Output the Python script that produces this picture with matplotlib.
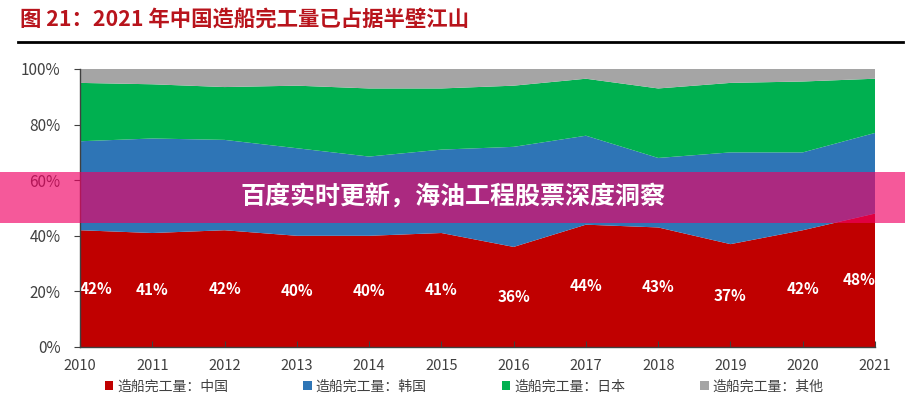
import numpy as np
import matplotlib
matplotlib.use("Agg")
import matplotlib.pyplot as plt
from matplotlib.patches import Rectangle

plt.rcParams['font.family'] = ['Noto Sans CJK SC', 'DejaVu Sans']

years = [2010, 2011, 2012, 2013, 2014, 2015, 2016, 2017, 2018, 2019, 2020, 2021]
china = [42, 41, 42, 40, 40, 41, 36, 44, 43, 37, 42, 48]
korea = [32, 34, 32.5, 31.5, 28.5, 30, 36, 32, 25, 33, 28, 29]
japan = [21, 19.5, 19, 22.5, 24.5, 22, 22, 20.5, 25, 25, 25.5, 19.5]
other = [100 - c - k - j for c, k, j in zip(china, korea, japan)]

series_names = ['造船完工量：中国', '造船完工量：韩国', '造船完工量：日本', '造船完工量：其他']
colors = ['#C00000', '#2E75B6', '#00B050', '#A5A5A5']

title = '图 21：2021 年中国造船完工量已占据半壁江山'
banner = '百度实时更新，海油工程股票深度洞察'

fig = plt.figure(figsize=(9.05, 3.94), dpi=100)
ax = fig.add_axes([0.0884, 0.1193, 0.8785, 0.7056])

polys = ax.stackplot(years, china, korea, japan, other, colors=colors, linewidth=0)

# data labels for China share
for i, (x, v) in enumerate(zip(years, china)):
    ha = 'center'
    if i == 0:
        ha = 'left'
    elif i == len(years) - 1:
        ha = 'right'
    ax.text(x, v / 2, f'{v}%', color='white', fontsize=11, fontweight='bold',
            ha=ha, va='center')

ax.set_xlim(years[0], years[-1])
ax.set_ylim(0, 100)
ax.set_xticks(years)
ax.set_yticks(range(0, 101, 20))
ax.set_yticklabels([f'{v}%' for v in range(0, 101, 20)])
ax.tick_params(axis='x', direction='in', length=4, pad=9, labelsize=10.5, labelcolor='#404040', color='#404040')
ax.tick_params(axis='y', direction='out', length=4, pad=10, labelsize=11, labelcolor='#404040', color='#404040')
for side in ['top', 'right']:
    ax.spines[side].set_visible(False)
for side in ['left', 'bottom']:
    ax.spines[side].set_color('#404040')
    ax.spines[side].set_linewidth(1)
    ax.spines[side].set_zorder(5)

fig.legend(polys, series_names, loc='center', bbox_to_anchor=(0.513, 0.019), ncol=4,
           frameon=False, fontsize=10, handlelength=0.6, handleheight=0.6,
           handletextpad=0.3, columnspacing=5.4, labelcolor='#404040',
           borderpad=0, borderaxespad=0)

# title and underline
fig.text(0.022, 0.949, title, color='#B8141C', fontsize=15.4, fontweight='bold',
         ha='left', va='center')
fig.add_artist(plt.Line2D([0.02, 0.998], [0.893, 0.893], color='black', linewidth=2))

# overlay banner
fig.add_artist(Rectangle((0, 0.434), 1, 0.1294, transform=fig.transFigure,
                         facecolor=(240 / 255, 0, 100 / 255), alpha=0.65,
                         edgecolor='none', zorder=10))
fig.text(0.5, 0.5, banner, color='white', fontsize=18, fontweight='bold',
         ha='center', va='center', zorder=11)

fig.savefig('out.png', dpi=100)
